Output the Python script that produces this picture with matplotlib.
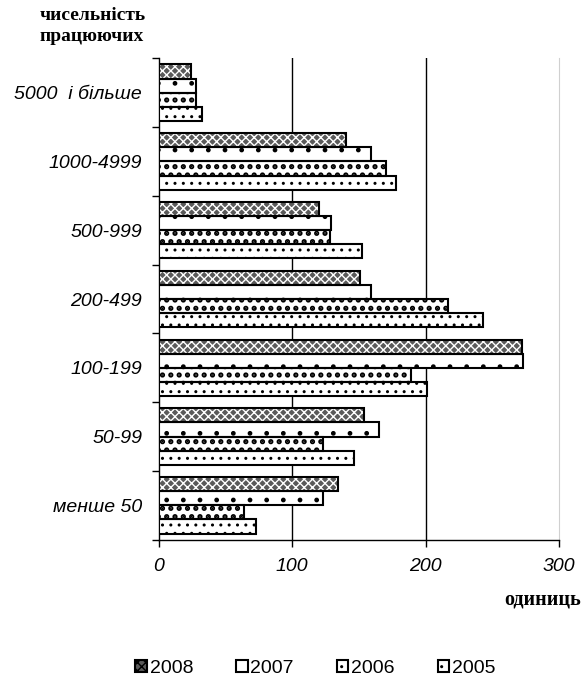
import numpy as np
import matplotlib.pyplot as plt
from matplotlib.patches import Patch

plt.rcParams['font.family'] = ['Liberation Sans', 'DejaVu Sans']
plt.rcParams['hatch.linewidth'] = 1.0

categories = ['менше 50', '50-99', '100-199', '200-499', '500-999', '1000-4999', '5000  і більше']
years = ['2008', '2007', '2006', '2005']
v2008 = [134, 154, 272, 151, 120, 140, 24]
v2007 = [123, 165, 273, 159, 129, 159, 28]
v2006 = [64, 123, 189, 217, 128, 170, 28]
v2005 = [73, 146, 201, 243, 152, 178, 32]
values = [v2008, v2007, v2006, v2005]

# face, hatch colour, hatch, hatch linewidth
styles = [('#5a5a5a', 'white', 'xxxx', 1.0),
          ('white', 'black', '.', 1.0),
          ('white', 'black', '..', 2.5),
          ('white', 'black', '..', 1.0)]

fig = plt.figure(figsize=(5.84, 6.85), dpi=100)
ax = fig.add_axes([0.272, 0.212, 0.685, 0.703])

y = np.arange(len(categories))
h = 0.205
for i, vals in enumerate(values):
    pos = y + (1.5 - i) * h
    face, hc, hatch, hlw = styles[i]
    bars = ax.barh(pos, vals, height=h, color=face, edgecolor=hc, hatch=hatch, linewidth=0, zorder=3)
    for b in bars:
        if hasattr(b, 'set_hatch_linewidth'):
            b.set_hatch_linewidth(hlw)
    ax.barh(pos, vals, height=h, fill=False, edgecolor='black', linewidth=1.5, zorder=4)

ax.set_xlim(0, 300)
ax.set_ylim(-0.5, len(categories) - 0.5)
ax.set_xticks([0, 100, 200, 300])
ax.set_xticklabels(['0', '100', '200', '300'], fontsize=14, style='italic')
ax.set_yticks(y)
ax.set_yticklabels(categories, fontsize=14, style='italic')
ax.tick_params(axis='y', length=0, pad=12)
ax.set_yticks(np.arange(-0.5, len(categories)), minor=True)
ax.tick_params(axis='y', which='minor', length=5, width=1)
ax.tick_params(axis='x', length=5, width=1, pad=8)

for xv in [100, 200]:
    ax.axvline(xv, color='black', linewidth=1, zorder=1)
ax.spines['top'].set_visible(False)
ax.spines['right'].set_color('#d0d0d0')
ax.spines['left'].set_linewidth(1)
ax.spines['bottom'].set_linewidth(1)

fig.text(0.068, 0.962, 'чисельність\nпрацюючих', family='Liberation Serif', weight='bold',
         fontsize=14, va='center', ha='left', linespacing=1.25)
fig.text(0.995, 0.125, 'одиниць', family='Liberation Serif', weight='bold',
         fontsize=14.5, va='center', ha='right')

handles = []
for face, hc, hatch, hlw in styles:
    handles.append(Patch(facecolor=face, edgecolor='black', hatch=hatch, linewidth=1.5))
fig.legend(handles, years, loc='center', bbox_to_anchor=(0.54, 0.024), ncol=4, frameon=False,
           fontsize=14, handlelength=0.6, handleheight=0.6, handletextpad=0.15, columnspacing=2.2)

fig.savefig('out.png', dpi=100)
